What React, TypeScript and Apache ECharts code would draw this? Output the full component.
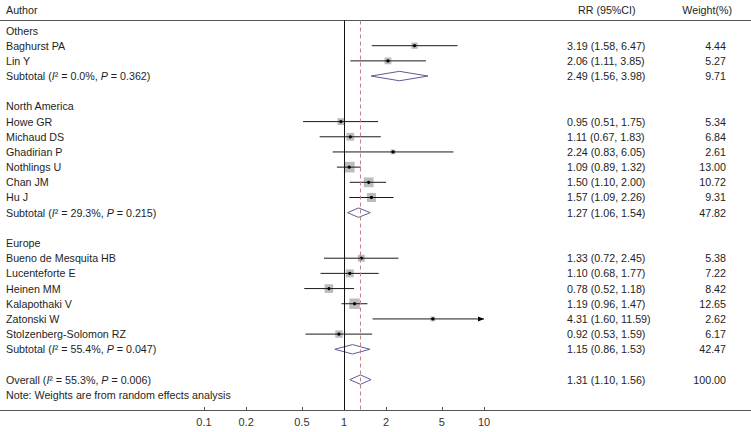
import React, { useEffect, useRef } from 'react';
import * as echarts from 'echarts';

// ---------------- data ----------------
const headers = ['Author', 'RR (95%CI)', 'Weight(%)'];
const groupNames = ['Others', 'North America', 'Europe'];
const authors = [
  'Baghurst PA', 'Lin Y',
  'Howe GR', 'Michaud DS', 'Ghadirian P', 'Nothlings U', 'Chan JM', 'Hu J',
  'Bueno de Mesquita HB', 'Lucenteforte E', 'Heinen MM', 'Kalapothaki V', 'Zatonski W', 'Stolzenberg-Solomon RZ',
];
const studyGroup = [0, 0, 1, 1, 1, 1, 1, 1, 2, 2, 2, 2, 2, 2];
const rrValues = [3.19, 2.06, 0.95, 1.11, 2.24, 1.09, 1.5, 1.57, 1.33, 1.1, 0.78, 1.19, 4.31, 0.92];
const ciLow = [1.58, 1.11, 0.51, 0.67, 0.83, 0.89, 1.1, 1.09, 0.72, 0.68, 0.52, 0.96, 1.6, 0.53];
const ciHigh = [6.47, 3.85, 1.75, 1.83, 6.05, 1.32, 2.0, 2.26, 2.45, 1.77, 1.18, 1.47, 11.59, 1.59];
const weights = [4.44, 5.27, 5.34, 6.84, 2.61, 13.0, 10.72, 9.31, 5.38, 7.22, 8.42, 12.65, 2.62, 6.17];
const subRR = [2.49, 1.27, 1.15];
const subLow = [1.56, 1.06, 0.86];
const subHigh = [3.98, 1.54, 1.53];
const subWeight = [9.71, 47.82, 42.47];
const subI2 = ['0.0', '29.3', '55.4'];
const subP = ['0.362', '0.215', '0.047'];
const overallRR = 1.31;
const overallLow = 1.1;
const overallHigh = 1.56;
const overallWeight = 100.0;
const overallI2 = '55.3';
const overallP = '0.006';
const noteText = 'Note: Weights are from random effects analysis';
const tickValues = [0.1, 0.2, 0.5, 1, 2, 5, 10];
const ciDisplayMax = 10;

// ---------------- rows ----------------
type Row = { label: string; kind: string; rr?: number; lo?: number; hi?: number; w?: number };
const rows: Row[] = [];
groupNames.forEach((g, gi) => {
  rows.push({ label: g, kind: 'head' });
  authors.forEach((a, i) => {
    if (studyGroup[i] === gi) {
      rows.push({ label: a, kind: 'study', rr: rrValues[i], lo: ciLow[i], hi: ciHigh[i], w: weights[i] });
    }
  });
  rows.push({
    label: `Subtotal ({it|I}² = ${subI2[gi]}%, {it|P} = ${subP[gi]})`,
    kind: 'sub', rr: subRR[gi], lo: subLow[gi], hi: subHigh[gi], w: subWeight[gi],
  });
  rows.push({ label: '', kind: 'blank' });
});
rows.push({
  label: `Overall ({it|I}² = ${overallI2}%, {it|P} = ${overallP})`,
  kind: 'overall', rr: overallRR, lo: overallLow, hi: overallHigh, w: overallWeight,
});
rows.push({ label: noteText, kind: 'note' });

const FAMILY = '"Liberation Sans", Arial, sans-serif';
const FONT = `10.7px ${FAMILY}`;
const IFONT = `italic 10.7px ${FAMILY}`;
const TXT = '#1e1e1e';

// axis geometry: 1 at 344px, 140 px per decade, grid spans full width
const W = 751;
const X_ONE = 344;
const DECADE = 140;
const xMin = Math.pow(10, -X_ONE / DECADE);
const xMax = Math.pow(10, (W - X_ONE) / DECADE);

export default function App() {
  const ref = useRef<HTMLDivElement>(null);
  useEffect(() => {
    if (!ref.current) return;
    const chart = echarts.init(ref.current, null, { renderer: 'svg' });

    const studyData = rows
      .map((r, i) => (r.kind === 'study' ? [r.rr, i, r.lo, r.hi, r.w] : null))
      .filter((d) => d) as number[][];
    const diamondData = rows
      .map((r, i) => (r.kind === 'sub' || r.kind === 'overall' ? [r.rr, i, r.lo, r.hi] : null))
      .filter((d) => d) as number[][];
    const textData = rows.map((r, i) => [1, i]);

    const option: any = {
      animation: false,
      backgroundColor: '#ffffff',
      grid: { left: 0, right: 0, top: 20.5, bottom: 22, containLabel: false },
      xAxis: [
        {
          type: 'log',
          logBase: 10,
          position: 'bottom',
          min: xMin,
          max: xMax,
          splitLine: { show: false },
          axisLine: { show: true, onZero: false, lineStyle: { color: '#555', width: 1 } },
          axisTick: { show: true, inside: true, length: 3, customValues: tickValues, lineStyle: { color: '#555' } },
          axisLabel: {
            show: true,
            customValues: tickValues,
            formatter: (v: number) => String(v),
            color: '#333',
            fontSize: 11,
            fontFamily: FAMILY,
            margin: 6,
          },
        },
        {
          type: 'value',
          position: 'top',
          min: 0,
          max: 1,
          splitLine: { show: false },
          axisLine: { show: true, onZero: false, lineStyle: { color: '#555', width: 1 } },
          axisTick: { show: false },
          axisLabel: { show: false },
        },
      ],
      yAxis: {
        type: 'value',
        inverse: true,
        min: -0.66,
        max: 25,
        show: false,
      },
      graphic: [
        { type: 'text', left: 6, top: 4, style: { text: headers[0], font: FONT, fill: TXT } },
        { type: 'text', left: 578, top: 4, style: { text: headers[1], font: FONT, fill: TXT } },
        { type: 'text', right: 19, top: 4, style: { text: headers[2], font: FONT, fill: TXT } },
      ],
      series: [
        {
          type: 'custom',
          name: 'studies',
          xAxisIndex: 0,
          encode: { x: 0, y: 1 },
          data: studyData,
          renderItem: (params: any, api: any) => {
            const row = api.value(1);
            const rr = api.value(0);
            const lo = api.value(2);
            const hi = api.value(3);
            const w = api.value(4);
            const [xr, y] = api.coord([rr, row]);
            const xl = api.coord([lo, row])[0];
            const clipped = hi > ciDisplayMax;
            const xh = api.coord([Math.min(hi, ciDisplayMax), row])[0];
            const s = 2.97 * Math.sqrt(w);
            const children: any[] = [
              { type: 'rect', shape: { x: xr - s / 2, y: y - s / 2, width: s, height: s }, style: { fill: '#bcbcbc' } },
              { type: 'line', shape: { x1: xl, y1: y, x2: xh, y2: y }, style: { stroke: '#1a1a1a', lineWidth: 1 } },
              { type: 'circle', shape: { cx: xr, cy: y, r: 1.6 }, style: { fill: '#000' } },
            ];
            if (clipped) {
              children.push({
                type: 'polygon',
                shape: { points: [[xh, y], [xh - 6, y - 2.5], [xh - 6, y + 2.5]] },
                style: { fill: '#000' },
              });
            }
            return { type: 'group', children };
          },
        },
        {
          type: 'custom',
          name: 'pooled',
          xAxisIndex: 0,
          encode: { x: 0, y: 1 },
          data: diamondData,
          renderItem: (params: any, api: any) => {
            const row = api.value(1);
            const [xr, y] = api.coord([api.value(0), row]);
            const xl = api.coord([api.value(2), row])[0];
            const xh = api.coord([api.value(3), row])[0];
            const h = 4.7;
            return {
              type: 'polygon',
              shape: { points: [[xl, y], [xr, y - h], [xh, y], [xr, y + h]] },
              style: { fill: 'none', stroke: '#5c5c98', lineWidth: 1 },
            };
          },
          markLine: {
            silent: true,
            symbol: 'none',
            label: { show: false },
            data: [
              { xAxis: 1, lineStyle: { color: '#111', width: 1, type: 'solid' } },
              { xAxis: overallRR, lineStyle: { color: '#c08288', width: 1, type: [4, 3] } },
            ],
          },
        },
        {
          type: 'custom',
          name: 'texts',
          xAxisIndex: 0,
          encode: { x: 0, y: 1 },
          data: textData,
          renderItem: (params: any, api: any) => {
            const r = rows[params.dataIndex];
            const y = api.coord([1, api.value(1)])[1];
            const children: any[] = [];
            if (r.label) {
              children.push({
                type: 'text',
                style: {
                  text: r.label, x: 6, y, font: FONT, fill: TXT, align: 'left', verticalAlign: 'middle',
                  rich: { it: { font: IFONT, fill: TXT } },
                },
              });
            }
            if (r.rr != null) {
              children.push({
                type: 'text',
                style: {
                  text: `${r.rr.toFixed(2)} (${r.lo!.toFixed(2)}, ${r.hi!.toFixed(2)})`,
                  x: 567, y, font: FONT, fill: TXT, align: 'left', verticalAlign: 'middle',
                },
              });
              children.push({
                type: 'text',
                style: {
                  text: r.w!.toFixed(2), x: 726, y, font: FONT, fill: TXT, align: 'right', verticalAlign: 'middle',
                },
              });
            }
            return { type: 'group', children };
          },
        },
      ],
    };
    chart.setOption(option);
    return () => chart.dispose();
  }, []);
  return <div ref={ref} style={{ position: 'fixed', left: 0, top: 0, width: 751, height: 432 }} />;
}
